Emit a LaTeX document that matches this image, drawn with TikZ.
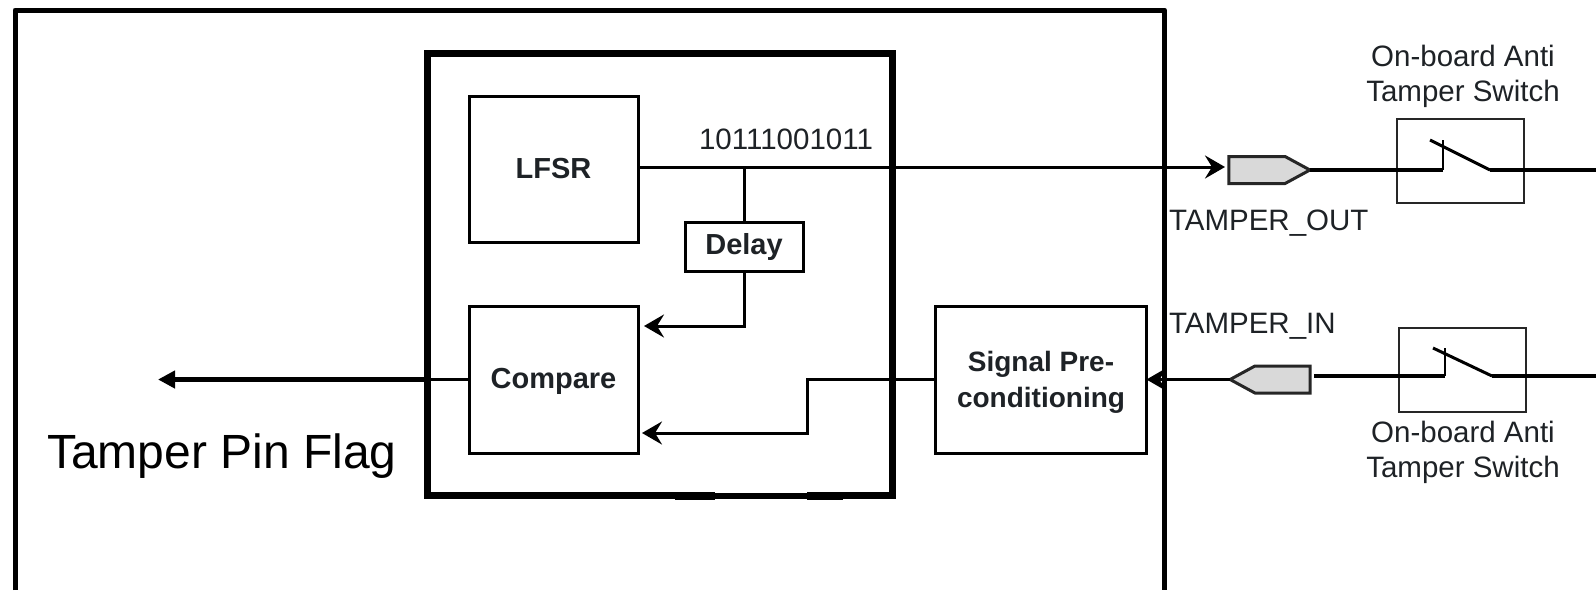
\documentclass[tikz,border=0pt]{standalone}
\usepackage{fontspec}
\setmainfont{Liberation Sans}
\usetikzlibrary{arrows.meta,shapes.symbols,positioning,calc}
\definecolor{ink}{HTML}{1E2226}
\definecolor{portgray}{HTML}{D9D9D9}
\tikzset{
  x=1pt,y=-1pt,
  every node/.style={inner sep=0pt,outer sep=0pt},
  blockbox/.style={draw=black,line width=3pt,align=center,font=\fontsize{29}{36}\selectfont\bfseries,text=ink},
  switchbox/.style={draw=black!85,line width=2pt,minimum width=127pt,minimum height=84pt},
  portout/.style={signal,signal to=east,signal from=nowhere,draw=black!85,line width=3pt,fill=portgray,minimum width=81pt,minimum height=27pt,signal pointer angle=57},
  portin/.style={signal,signal to=west,signal from=nowhere,draw=black!85,line width=3pt,fill=portgray,minimum width=80pt,minimum height=27pt,signal pointer angle=57},
  smalltext/.style={font=\fontsize{29.5}{35}\selectfont,text=ink,align=center},
  wire/.style={draw=black,line width=3pt},
  thickwire/.style={draw=black,line width=5pt},
  sharp/.style={-{Stealth[length=20pt,width=23pt,inset=7pt]}},
  boldtip/.style={-{Triangle[length=17pt,width=17pt]}},
}
\begin{document}
\begin{tikzpicture}
\useasboundingbox (0,0) rectangle (1596,590);
% outer board outline (open at the bottom)
\coordinate (obl) at (15,590);
\coordinate (otl) at (15,10);
\coordinate (otr) at (1164.5,10);
\coordinate (obr) at (1164.5,590);
\draw[line width=5pt,line join=round] (obl) -- (otl) -- (otr) -- (obr);
% inner thick box
\node[draw=black,line width=7pt,minimum width=465pt,minimum height=442pt] (inner) at (659.5,274) {};
\fill[black] (675,491.5) rectangle (715,500);
\fill[black] (807,491.5) rectangle (843,500);
\fill[white] (715,490) rectangle (807,492.7);
% blocks
\node[blockbox,minimum width=169pt,minimum height=146pt] (lfsr) at (553.5,169) {LFSR};
\node[blockbox,minimum width=118pt,minimum height=49pt] (delay) at (744,246.5) {Delay};
\node[blockbox,minimum width=169pt,minimum height=147pt] (compare) at (553.5,379.5) {\rule{0pt}{25pt}Compare};
\node[blockbox,minimum width=211pt,minimum height=147pt,font=\fontsize{28}{36}\selectfont\bfseries] (signal) at (1041,379.5) {\rule{0pt}{25pt}Signal Pre-\\conditioning};
% ports
\node[portout] (pout) at (1257,170) {};
\node[portin] (pin) at (1282.5,379.5) {};
% switches
\node[switchbox] (sw1) at (1460.5,161) {};
\node[switchbox] (sw2) at (1462.5,369.5) {};
% labels
\node[smalltext,anchor=base] (bits) at (786,149) {10111001011};
\node[smalltext,anchor=base west] (tout) at (1169,230) {TAMPER\_OUT};
\node[smalltext,anchor=base west] (tin) at (1169,333) {TAMPER\_IN};
\node[smalltext,anchor=base] (sl1a) at (1463,66) {On-board Anti};
\node[smalltext,anchor=base] (sl1b) at (1463,101) {Tamper Switch};
\node[smalltext,anchor=base] (sl2a) at (1463,442) {On-board Anti};
\node[smalltext,anchor=base] (sl2b) at (1463,477) {Tamper Switch};
\node[anchor=base west,font=\fontsize{48}{52}\selectfont,text=black] (flag) at (47,468) {Tamper Pin Flag};
% junctions and free ends
\coordinate (lfsrout) at (638,167);
\coordinate (tap) at (744,167);
\coordinate (poutin) at (1225,167);
\coordinate (cmpup) at (644,326);
\coordinate (cmpdn) at (642,433);
\coordinate (bend) at (807,379.5);
\coordinate (bend2) at (807,433);
\coordinate (flagend) at (158,379.5);
\coordinate (thin) at (427,379.5);
\coordinate (rail1) at (1596,170);
\coordinate (rail2) at (1596,376);
\coordinate (c1) at (1443,170);
\coordinate (c1t) at (1443,140);
\coordinate (b1a) at (1430,140);
\coordinate (b1b) at (1490,170);
\coordinate (c2) at (1445,376);
\coordinate (c2t) at (1445,348);
\coordinate (b2a) at (1433,348);
\coordinate (b2b) at (1492,376);
\coordinate (pinout) at (1314,376);
% connectors
\draw[wire,sharp] (lfsrout) -- (poutin);
\draw[wire] (tap) -- (delay.north);
\draw[wire,sharp] (delay.south) |- (cmpup);
\draw[wire,sharp] (signal.west) -- (bend) -- (bend2) -- (cmpdn);
\draw[wire] (compare.west) -- (thin);
\draw[thickwire,boldtip] (thin) -- (flagend);
\draw[wire,sharp] (pin.west) -- (signal.east);
\draw[line width=3.5pt] (pout.east) -- (c1);
\draw[line width=2.5pt] (c1) -- (c1t);
\draw[line width=3pt] (b1a) -- (b1b);
\draw[line width=3.5pt] (b1b) -- (rail1);
\draw[line width=3.5pt] (pinout) -- (c2);
\draw[line width=2.5pt] (c2) -- (c2t);
\draw[line width=3pt] (b2a) -- (b2b);
\draw[line width=3.5pt] (b2b) -- (rail2);
\end{tikzpicture}
\end{document}
